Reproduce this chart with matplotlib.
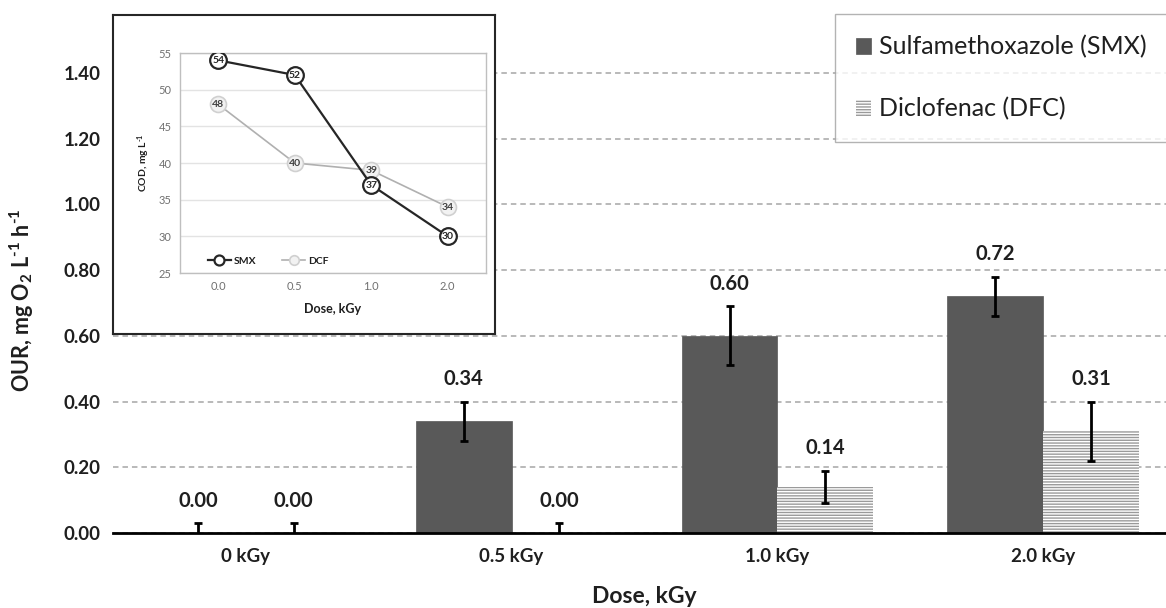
import matplotlib
matplotlib.use("Agg")
import matplotlib.pyplot as plt
import numpy as np

# ---------------- data ----------------
doses = ["0 kGy", "0.5 kGy", "1.0 kGy", "2.0 kGy"]
smx_our = [0.00, 0.34, 0.60, 0.72]
smx_err = [0.03, 0.06, 0.09, 0.06]
dfc_our = [0.00, 0.00, 0.14, 0.31]
dfc_err = [0.03, 0.03, 0.05, 0.09]
series_names = ["Sulfamethoxazole (SMX)", "Diclofenac (DFC)"]
y_ticks = [0.0, 0.2, 0.4, 0.6, 0.8, 1.0, 1.2, 1.4]

inset_doses = ["0.0", "0.5", "1.0", "2.0"]
cod_smx = [54, 52, 37, 30]
cod_dcf = [48, 40, 39, 34]
inset_names = ["SMX", "DCF"]
inset_y_ticks = [25, 30, 35, 40, 45, 50, 55]

# ---------------- style ----------------
plt.rcParams["font.family"] = ["Lato", "DejaVu Sans"]
plt.rcParams["mathtext.fontset"] = "custom"
plt.rcParams["mathtext.rm"] = "Lato:bold"
plt.rcParams["mathtext.it"] = "Lato:bold"
plt.rcParams["mathtext.bf"] = "Lato:bold"
plt.rcParams["hatch.linewidth"] = 1.0

W, H = 1166, 608
fig = plt.figure(figsize=(W / 100, H / 100), dpi=100)

def fx(px):
    return px / W

def fy(py):
    return 1 - py / H

# main axes: left 113px, bottom 533px, top ~7px
ax = fig.add_axes([fx(113), fy(533), fx(1166 - 113), (533 - 7.3) / H])
x = np.arange(len(doses))
bw = 0.36
dark = "#1f1f1f"

b1 = ax.bar(x - bw / 2, smx_our, bw, color="#595959", edgecolor="#595959",
            linewidth=0.5, zorder=2, label=series_names[0])
b2 = ax.bar(x + bw / 2, dfc_our, bw, color="white", edgecolor="#9a9a9a",
            hatch="------", linewidth=0, zorder=2, label=series_names[1])
ax.errorbar(x - bw / 2, smx_our, yerr=smx_err, fmt="none", ecolor="black",
            elinewidth=2, capsize=3.2, capthick=2, zorder=3)
ax.errorbar(x + bw / 2, dfc_our, yerr=dfc_err, fmt="none", ecolor="black",
            elinewidth=2, capsize=3.2, capthick=2, zorder=3)

for xs, vals, errs in ((x - bw / 2, smx_our, smx_err), (x + bw / 2, dfc_our, dfc_err)):
    for xi, v, e in zip(xs, vals, errs):
        ax.annotate(f"{v:.2f}", (xi, v + e), xytext=(0, 9), textcoords="offset points",
                    ha="center", va="bottom", fontsize=14.5, fontweight="bold", color=dark)

ax.set_xlim(-0.5, 3 + (1166 - 1043) / 266)
ax.set_ylim(0, 1.6)
ax.set_yticks(y_ticks)
ax.set_yticklabels([f"{t:.2f}" for t in y_ticks])
ax.set_xticks(x)
ax.set_xticklabels(doses)
ax.tick_params(axis="both", length=0, labelsize=13.5, colors=dark)
ax.tick_params(axis="y", pad=9)
ax.tick_params(axis="x", pad=11)
for lab in ax.get_xticklabels() + ax.get_yticklabels():
    lab.set_fontweight("bold")
ax.yaxis.grid(True, color="#a6a6a6", linestyle=(0, (3.6, 2.6)), linewidth=1.1)
ax.set_axisbelow(True)
for s in ("top", "right", "left"):
    ax.spines[s].set_visible(False)
ax.spines["bottom"].set_linewidth(2)
ax.spines["bottom"].set_color("black")

ax.set_ylabel(r"OUR, mg O$_2$ L$^{\text{-}1}$ h$^{\text{-}1}$", fontsize=15.5,
              fontweight="bold", color=dark)
ax.yaxis.set_label_coords(-0.073, 0.443)
ax.set_xlabel("Dose, kGy", fontsize=16.5, fontweight="bold", color=dark)
ax.xaxis.set_label_coords(0.505, -0.1)

leg = fig.legend(handles=[b1, b2], labels=series_names, loc="upper left",
                 bbox_to_anchor=(fx(835), fy(14)), borderaxespad=0, frameon=True,
                 fancybox=False, edgecolor="#a0a0a0", fontsize=18,
                 labelspacing=1.55, borderpad=0.85, handlelength=0.6,
                 handleheight=0.6, handletextpad=0.3)
leg.get_frame().set_linewidth(1.0)
for t in leg.get_texts():
    t.set_color(dark)

# ---------------- inset ----------------
frame = fig.add_axes([fx(113), fy(334), fx(495 - 113), (334 - 15) / H])
frame.set_xticks([])
frame.set_yticks([])
frame.set_facecolor("white")
for s in frame.spines.values():
    s.set_linewidth(1.5)
    s.set_color("#262626")

ins = fig.add_axes([fx(180), fy(273), fx(486 - 180), (273 - 53) / H])
xi = np.arange(len(inset_doses))
ins.plot(xi, cod_dcf, color="#b0b0b0", linewidth=1.2, marker="o", markersize=11.5,
         markerfacecolor="#f2f2f2", markeredgecolor="#d0d0d0", markeredgewidth=1.2,
         label=inset_names[1], zorder=3)
ins.plot(xi, cod_smx, color="#262626", linewidth=1.6, marker="o", markersize=12,
         markerfacecolor="white", markeredgecolor="#262626", markeredgewidth=1.6,
         label=inset_names[0], zorder=4)
for xx, v in zip(xi, cod_smx):
    ins.text(xx, v, f"{v}", ha="center", va="center", fontsize=7.5, fontweight="bold",
             color="#262626", zorder=5)
for xx, v in zip(xi, cod_dcf):
    ins.text(xx, v, f"{v}", ha="center", va="center", fontsize=7.5, fontweight="bold",
             color="#404040", zorder=5)
ins.set_xlim(-0.5, 3.5)
ins.set_ylim(25, 55)
ins.set_yticks(inset_y_ticks)
ins.set_xticks(xi)
ins.set_xticklabels(inset_doses)
ins.tick_params(axis="both", length=0, labelsize=8, colors="#707070", pad=6)
ins.yaxis.grid(True, color="#e3e3e3", linewidth=1)
ins.set_axisbelow(True)
for s in ins.spines.values():
    s.set_color("#bfbfbf")
    s.set_linewidth(1)
ins.set_ylabel(r"COD, mg L$^{\text{-}1}$", fontsize=7.5, fontweight="bold", color=dark,
               labelpad=5)
ins.set_xlabel("Dose, kGy", fontsize=9, fontweight="bold", color=dark, labelpad=8)
h, l = ins.get_legend_handles_labels()
il = ins.legend(h[::-1], l[::-1], loc="lower left", ncol=2, frameon=False,
                fontsize=7.5, markerscale=0.6, handlelength=2.2, columnspacing=2.5,
                bbox_to_anchor=(0.06, -0.01), handletextpad=0.3)
for t in il.get_texts():
    t.set_fontweight("bold")
    t.set_color(dark)

fig.savefig("out.png", dpi=100)
